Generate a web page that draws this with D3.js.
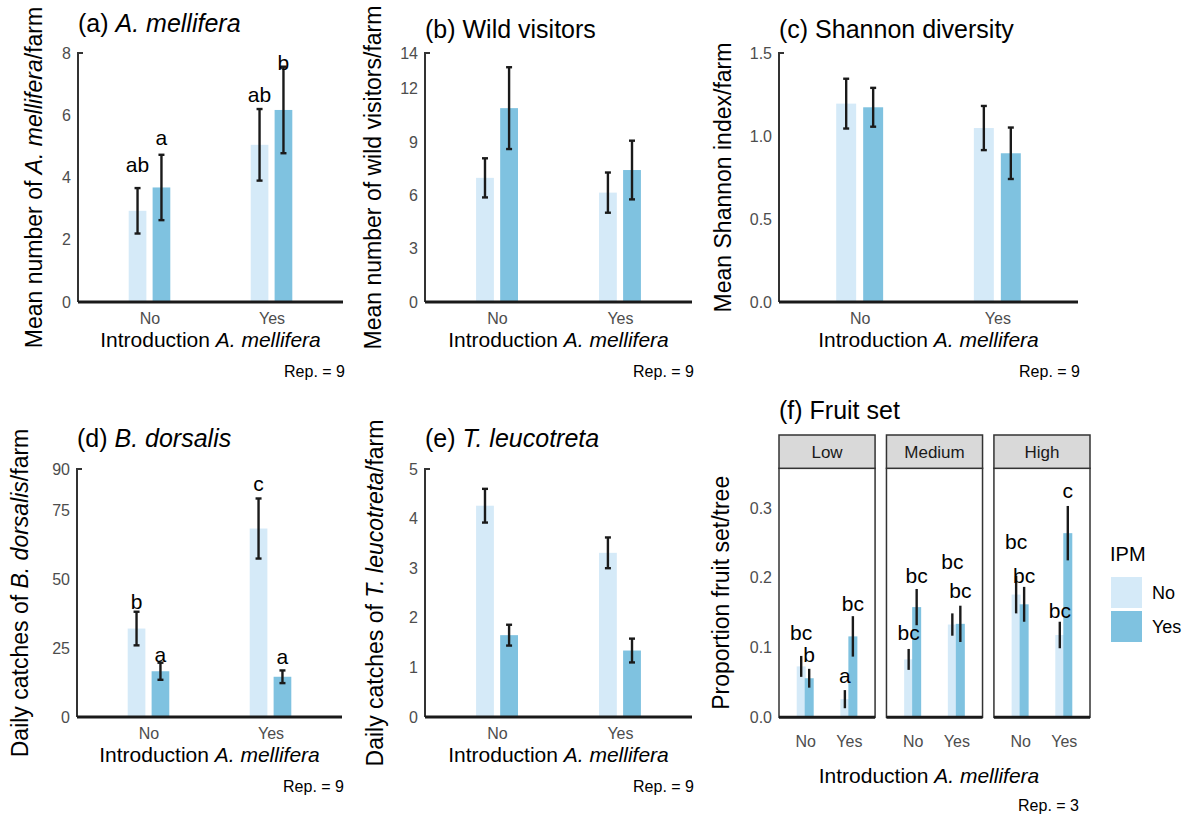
<!DOCTYPE html>
<html><head><meta charset="utf-8">
<script src="https://cdn.jsdelivr.net/npm/d3@7"></script>
<style>
body{margin:0;background:#fff}
text{font-family:"Liberation Sans",Arial,Helvetica,sans-serif}
</style>
</head><body><svg id="chart" width="1184" height="814"></svg>
<script>
// ---------- DATA ----------
const introCategories = ["No", "Yes"];
const ipmLevels = ["No", "Yes"];
// value order: [Intro No/IPM No, Intro No/IPM Yes, Intro Yes/IPM No, Intro Yes/IPM Yes]
const melliferaMean = [2.93, 3.68, 5.05, 6.17];
const melliferaSE = [0.73, 1.05, 1.15, 1.39];
const melliferaLetters = ["ab", "a", "ab", "b"];
const melliferaLetterY = [4.19, 5.03, 6.44, 7.44];
const melliferaTicks = [0, 2, 4, 6, 8];

const wildMean = [6.98, 10.9, 6.15, 7.42];
const wildSE = [1.1, 2.3, 1.13, 1.65];
const wildTicks = [0, 3, 6, 9, 12, 14];

const shannonMean = [1.195, 1.173, 1.048, 0.896];
const shannonSE = [0.15, 0.117, 0.133, 0.155];
const shannonTicks = [0, 0.5, 1.0, 1.5];

const dorsalisMean = [32.1, 16.6, 68.4, 14.6];
const dorsalisSE = [6.1, 3.1, 10.9, 2.3];
const dorsalisLetters = ["b", "a", "c", "a"];
const dorsalisLetterY = [39.2, 19.8, 82.1, 19.2];
const dorsalisTicks = [0, 25, 50, 75, 90];

const leucotretaMean = [4.26, 1.65, 3.31, 1.34];
const leucotretaSE = [0.34, 0.21, 0.31, 0.24];
const leucotretaTicks = [0, 1, 2, 3, 4, 5];

const fruitFacets = ["Low", "Medium", "High"];
// per facet, same value order as above
const fruitMean = [0.073, 0.056, 0.026, 0.116,
                   0.083, 0.158, 0.133, 0.134,
                   0.176, 0.162, 0.118, 0.264];
const fruitSE = [0.015, 0.0135, 0.013, 0.029,
                 0.015, 0.026, 0.016, 0.026,
                 0.027, 0.025, 0.019, 0.039];
const fruitLetters = ["bc", "b", "a", "bc",
                      "bc", "bc", "bc", "bc",
                      "bc", "bc", "bc", "c"];
const fruitLetterY = [0.111, 0.080, 0.049, 0.152,
                      0.111, 0.192, 0.212, 0.171,
                      0.242, 0.192, 0.142, 0.314];
const fruitTicks = [0, 0.1, 0.2, 0.3];
const repLabels = ["Rep. = 9", "Rep. = 9", "Rep. = 9", "Rep. = 9", "Rep. = 9", "Rep. = 3"];

// ---------- STYLE ----------
const svg = d3.select("#chart");
const color = d3.scaleOrdinal().domain(ipmLevels).range(["#d5eaf8", "#7fc2e0"]);
const tickGray = "#4d4d4d";
const yTitleSize = 23;

function richText(sel, parts) {
  parts.forEach(p => sel.append("tspan").attr("font-style", p[1] ? "italic" : "normal").text(p[0]));
}
const xTitleParts = [["Introduction ", false], ["A. mellifera", true]];

function rowsOf(mean, se, letters, letterY, offset) {
  return mean.map((m, i) => ({
    intro: introCategories[Math.floor(i / 2)],
    ipm: ipmLevels[i % 2],
    m, se: se[i],
    letter: letters ? letters[offset + i] : null,
    ly: letterY ? letterY[offset + i] : null
  }));
}

function drawPanel(cfg) {
  const g = svg.append("g");
  const x = d3.scalePoint().domain(introCategories).range([cfg.x0, cfg.x1]).padding(0.586);
  const step = x.step();
  const bw = step * 0.145, off = step * 0.098;
  const xi = d3.scalePoint().domain(ipmLevels).range([-off, off]);
  const y = d3.scaleLinear().domain([0, d3.max(cfg.ticks)]).range([cfg.yb, cfg.yt]);
  const rows = rowsOf(cfg.mean, cfg.se, cfg.letters, cfg.letterY, 0);
  const cx = d => x(d.intro) + xi(d.ipm);

  g.selectAll("rect.bar").data(rows).join("rect").attr("class", "bar")
    .attr("x", d => cx(d) - bw / 2).attr("y", d => y(d.m))
    .attr("width", bw).attr("height", d => y(0) - y(d.m))
    .attr("fill", d => color(d.ipm));

  const eb = g.selectAll("g.eb").data(rows).join("g").attr("class", "eb")
    .attr("stroke", "#1a1a1a").attr("stroke-width", 2.4);
  eb.append("line").attr("x1", cx).attr("x2", cx)
    .attr("y1", d => y(d.m + d.se)).attr("y2", d => y(d.m - d.se));
  eb.append("line").attr("x1", d => cx(d) - 3).attr("x2", d => cx(d) + 3)
    .attr("y1", d => y(d.m + d.se)).attr("y2", d => y(d.m + d.se));
  eb.append("line").attr("x1", d => cx(d) - 3).attr("x2", d => cx(d) + 3)
    .attr("y1", d => y(d.m - d.se)).attr("y2", d => y(d.m - d.se));

  if (cfg.letters) {
    g.selectAll("text.lt").data(rows).join("text").attr("class", "lt")
      .attr("x", cx).attr("y", d => y(d.ly)).attr("text-anchor", "middle")
      .attr("font-size", 21).attr("fill", "#000").text(d => d.letter);
  }

  // y axis
  const ya = g.append("g").attr("transform", `translate(${cfg.x0},0)`)
    .call(d3.axisLeft(y).tickValues(cfg.ticks).tickSize(0).tickPadding(7).tickFormat(cfg.fmt));
  ya.select(".domain").remove();
  ya.selectAll("text").attr("font-size", 16).attr("fill", tickGray).attr("font-family", null);
  g.append("path").attr("d", `M${cfg.x0},${y(0)}V${y(d3.max(cfg.ticks))}h5`)
    .attr("fill", "none").attr("stroke", "#333").attr("stroke-width", 2);

  // x axis
  const xa = g.append("g").attr("transform", `translate(0,${cfg.yb})`)
    .call(d3.axisBottom(x).tickSize(0).tickPadding(10.6));
  xa.select(".domain").remove();
  xa.selectAll("text").attr("font-size", 16).attr("fill", tickGray).attr("font-family", null);
  g.append("line").attr("x1", cfg.x0).attr("x2", cfg.x1).attr("y1", y(0)).attr("y2", y(0))
    .attr("stroke", "#1a1a1a").attr("stroke-width", 3);

  // titles
  const t = g.append("text").attr("x", cfg.x0).attr("y", cfg.titleY).attr("font-size", 25).attr("fill", "#000");
  richText(t, cfg.title);
  const xt = g.append("text").attr("x", (cfg.x0 + cfg.x1) / 2).attr("y", cfg.yb + 45)
    .attr("text-anchor", "middle").attr("font-size", 21).attr("fill", "#000");
  richText(xt, xTitleParts);
  const yt = g.append("text").attr("transform", `translate(${cfg.yTitleX},${(cfg.yt + cfg.yb) / 2}) rotate(-90)`)
    .attr("text-anchor", "middle").attr("font-size", yTitleSize).attr("fill", "#000");
  richText(yt, cfg.yTitle);
  g.append("text").attr("x", cfg.x1 + 2).attr("y", cfg.repY).attr("text-anchor", "end")
    .attr("font-size", 16).attr("fill", "#000").text(cfg.rep);
}

const f1 = d => d3.format(".1f")(d);
const f0 = d => d3.format("d")(d);

drawPanel({x0: 78, x1: 343, yt: 53, yb: 302, ticks: melliferaTicks, fmt: f0,
  mean: melliferaMean, se: melliferaSE, letters: melliferaLetters, letterY: melliferaLetterY,
  title: [["(a) ", false], ["A. mellifera", true]], titleY: 32,
  yTitle: [["Mean number of  ", false], ["A. mellifera", true], ["/farm", false]], yTitleX: 42,
  rep: repLabels[0], repY: 377});
drawPanel({x0: 425, x1: 692, yt: 53, yb: 302, ticks: wildTicks, fmt: f0,
  mean: wildMean, se: wildSE,
  title: [["(b) Wild visitors", false]], titleY: 38,
  yTitle: [["Mean number of wild visitors/farm", false]], yTitleX: 381,
  rep: repLabels[1], repY: 377});
drawPanel({x0: 779, x1: 1078, yt: 53, yb: 302, ticks: shannonTicks, fmt: f1,
  mean: shannonMean, se: shannonSE,
  title: [["(c) Shannon diversity", false]], titleY: 38,
  yTitle: [["Mean Shannon index/farm", false]], yTitleX: 731,
  rep: repLabels[2], repY: 377});
drawPanel({x0: 77, x1: 342, yt: 469, yb: 717, ticks: dorsalisTicks, fmt: f0,
  mean: dorsalisMean, se: dorsalisSE, letters: dorsalisLetters, letterY: dorsalisLetterY,
  title: [["(d) ", false], ["B. dorsalis", true]], titleY: 447,
  yTitle: [["Daily catches of  ", false], ["B. dorsalis", true], ["/farm", false]], yTitleX: 28,
  rep: repLabels[3], repY: 792});
drawPanel({x0: 425, x1: 692, yt: 469, yb: 717, ticks: leucotretaTicks, fmt: f0,
  mean: leucotretaMean, se: leucotretaSE,
  title: [["(e) ", false], ["T. leucotreta", true]], titleY: 447,
  yTitle: [["Daily catches of  ", false], ["T. leucotreta", true], ["/farm", false]], yTitleX: 383,
  rep: repLabels[4], repY: 792});

// ---------- (f) faceted panel ----------
(function () {
  const g = svg.append("g");
  const facetX = d3.scaleBand().domain(fruitFacets).range([779, 1090]).paddingInner(0.106).paddingOuter(0);
  const yt = 468.3, yb = 717.3, stripTop = 435;
  const y = d3.scaleLinear().domain([0, 0.357]).range([yb, yt]);
  const bw = 9, off = 4;
  const xi = d3.scalePoint().domain(ipmLevels).range([-off, off]);

  fruitFacets.forEach((facet, fi) => {
    const fx0 = facetX(facet), fx1 = fx0 + facetX.bandwidth();
    const x = d3.scalePoint().domain(introCategories).range([fx0, fx1]).padding(0.6);
    const rows = rowsOf(fruitMean.slice(fi * 4, fi * 4 + 4), fruitSE.slice(fi * 4, fi * 4 + 4), fruitLetters, fruitLetterY, fi * 4);
    const cx = d => x(d.intro) + xi(d.ipm);
    const pg = g.append("g");
    pg.selectAll("rect.bar").data(rows).join("rect").attr("class", "bar")
      .attr("x", d => cx(d) - bw / 2).attr("y", d => y(d.m))
      .attr("width", bw).attr("height", d => y(0) - y(d.m)).attr("fill", d => color(d.ipm));
    pg.selectAll("line.eb").data(rows).join("line").attr("class", "eb")
      .attr("x1", cx).attr("x2", cx).attr("y1", d => y(d.m + d.se)).attr("y2", d => y(d.m - d.se))
      .attr("stroke", "#1a1a1a").attr("stroke-width", 2.4);
    pg.selectAll("text.lt").data(rows).join("text").attr("class", "lt")
      .attr("x", cx).attr("y", d => y(d.ly)).attr("text-anchor", "middle")
      .attr("font-size", 21).attr("fill", "#000").text(d => d.letter);
    // panel border
    pg.append("rect").attr("x", fx0).attr("y", yt).attr("width", fx1 - fx0).attr("height", yb - yt)
      .attr("fill", "none").attr("stroke", "#333").attr("stroke-width", 1.5);
    pg.append("line").attr("x1", fx0).attr("x2", fx1).attr("y1", yb).attr("y2", yb)
      .attr("stroke", "#1a1a1a").attr("stroke-width", 3);
    // strip
    pg.append("rect").attr("x", fx0).attr("y", stripTop).attr("width", fx1 - fx0).attr("height", yt - stripTop)
      .attr("fill", "#d9d9d9").attr("stroke", "#333").attr("stroke-width", 1.5);
    pg.append("text").attr("x", (fx0 + fx1) / 2).attr("y", (stripTop + yt) / 2).attr("dy", "0.36em")
      .attr("text-anchor", "middle").attr("font-size", 17).attr("fill", "#1a1a1a").text(facet);
    // x ticks
    const xa = pg.append("g").attr("transform", `translate(0,${yb})`)
      .call(d3.axisBottom(x).tickSize(0).tickPadding(18));
    xa.select(".domain").remove();
    xa.selectAll("text").attr("font-size", 16).attr("fill", tickGray).attr("font-family", null);
  });

  const ya = g.append("g").attr("transform", `translate(779,0)`)
    .call(d3.axisLeft(y).tickValues(fruitTicks).tickSize(0).tickPadding(7).tickFormat(d3.format(".1f")));
  ya.select(".domain").remove();
  ya.selectAll("text").attr("font-size", 16).attr("fill", tickGray).attr("font-family", null);

  const t = g.append("text").attr("x", 779).attr("y", 419).attr("font-size", 25).attr("fill", "#000");
  richText(t, [["(f) Fruit set", false]]);
  const xt = g.append("text").attr("x", 929).attr("y", 783).attr("text-anchor", "middle").attr("font-size", 21);
  richText(xt, xTitleParts);
  g.append("text").attr("transform", `translate(729,${(yt + yb) / 2}) rotate(-90)`)
    .attr("text-anchor", "middle").attr("font-size", yTitleSize).text("Proportion fruit set/tree");
  g.append("text").attr("x", 1079).attr("y", 811).attr("text-anchor", "end").attr("font-size", 16).text(repLabels[5]);

  // legend
  const lg = g.append("g");
  lg.append("text").attr("x", 1110).attr("y", 561).attr("font-size", 20).text("IPM");
  ipmLevels.forEach((lev, i) => {
    lg.append("rect").attr("x", 1111).attr("y", 577 + i * 34).attr("width", 31).attr("height", 31).attr("fill", color(lev));
    lg.append("text").attr("x", 1152).attr("y", 592.5 + i * 34).attr("dy", "0.36em").attr("font-size", 18).text(lev);
  });
})();
</script></body></html>
